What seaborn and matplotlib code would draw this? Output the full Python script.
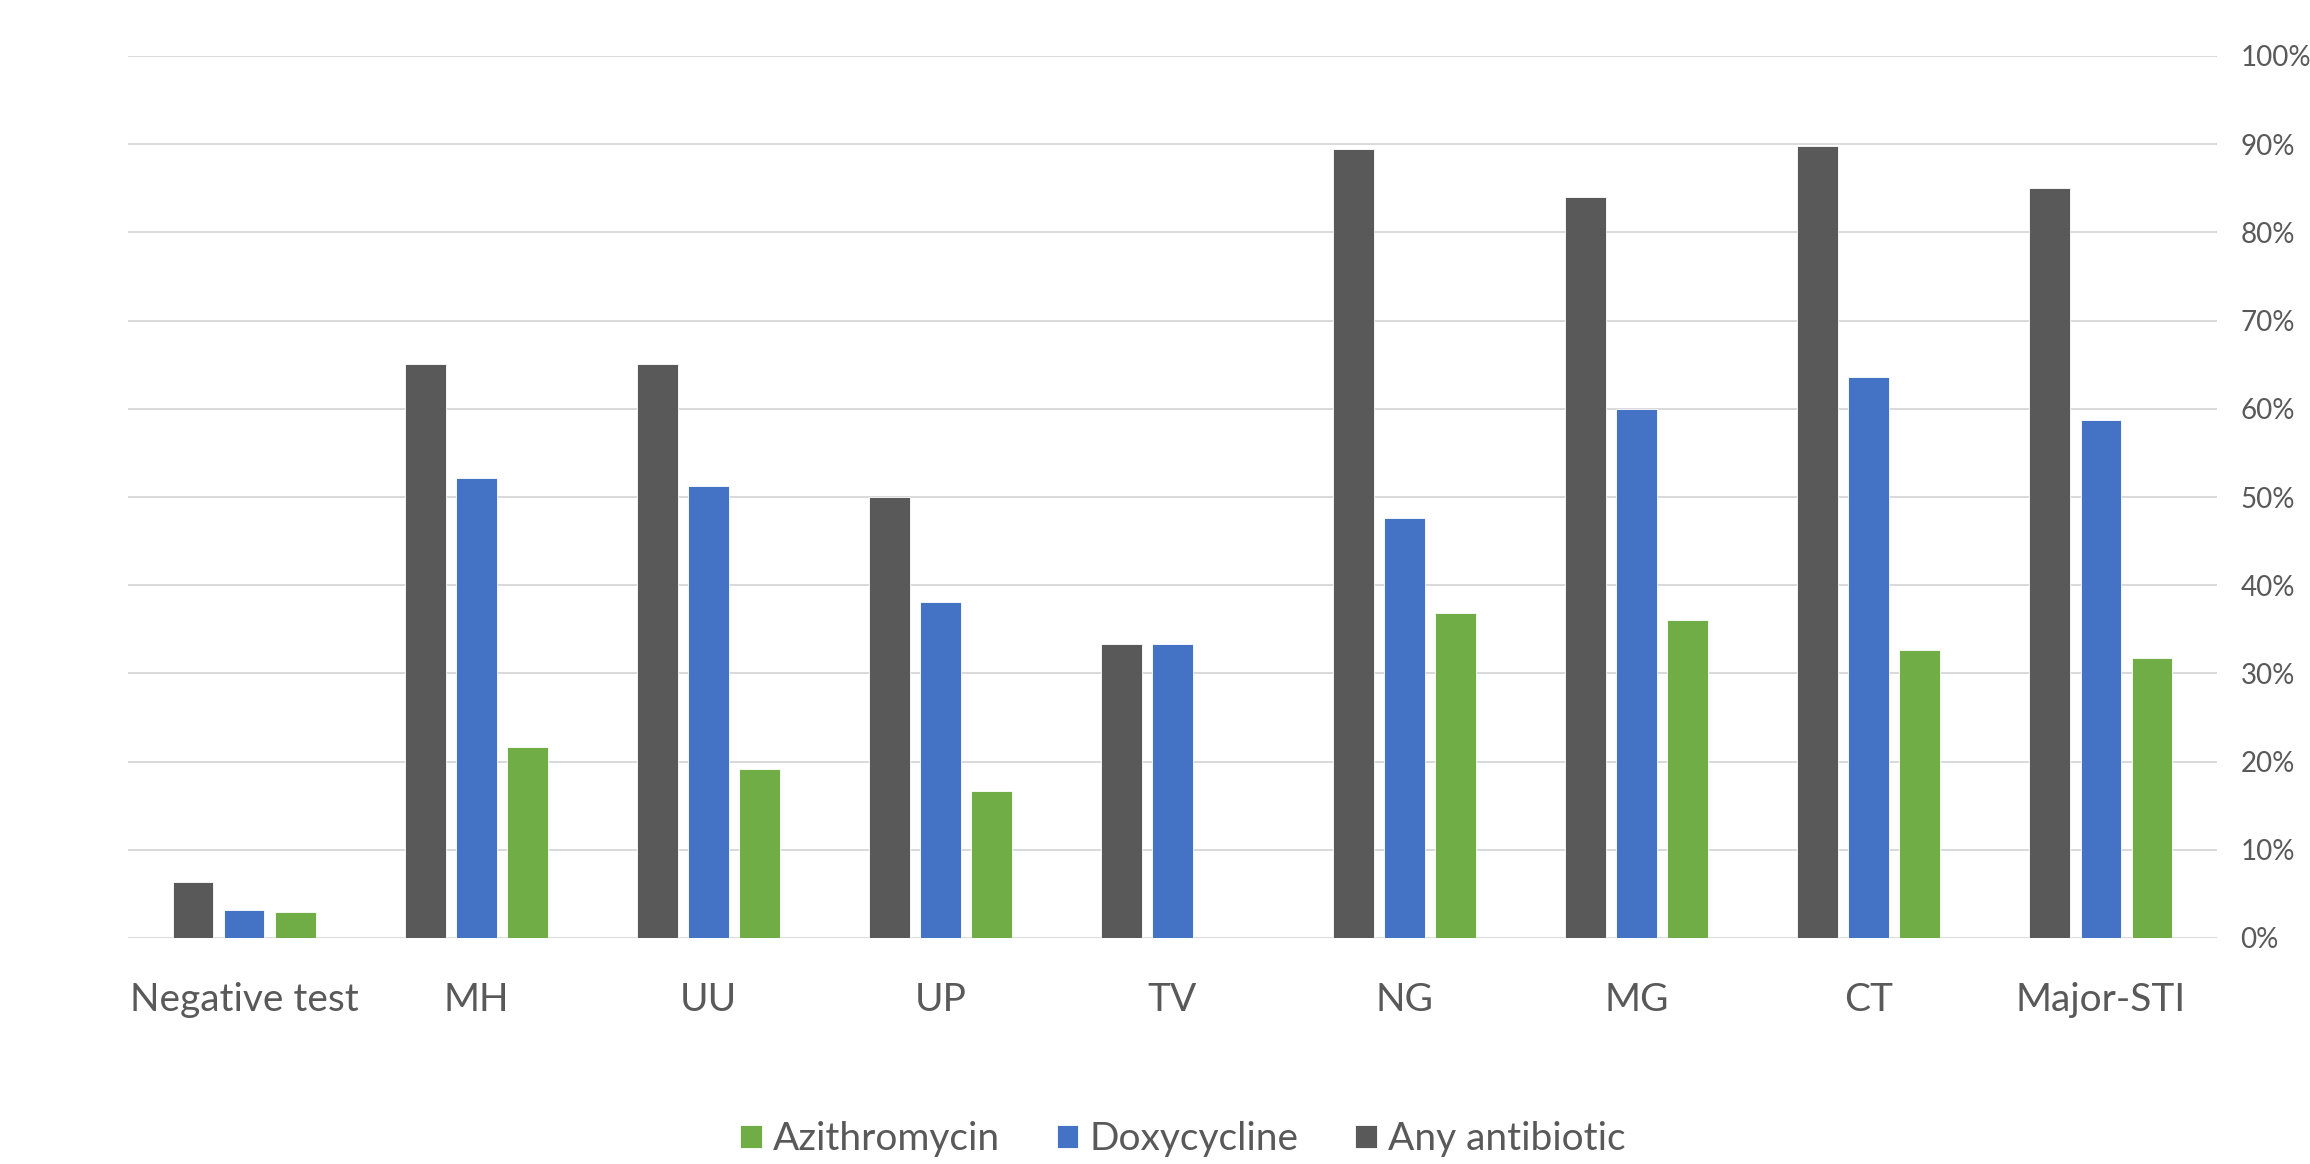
import matplotlib
matplotlib.use("Agg")
import matplotlib.pyplot as plt
from matplotlib.ticker import FuncFormatter, MultipleLocator
import pandas as pd
import seaborn as sns

# Share of patients receiving antibiotics, by test result (%)
categories = ["Negative test", "MH", "UU", "UP", "TV", "NG", "MG", "CT", "Major-STI"]
any_antibiotic = [6.4, 65.1, 65.1, 50.0, 33.3, 89.5, 84.0, 89.8, 85.0]
doxycycline = [3.2, 52.2, 51.2, 38.1, 33.3, 47.6, 60.0, 63.6, 58.7]
azithromycin = [3.0, 21.7, 19.2, 16.7, 0.0, 36.8, 36.0, 32.7, 31.8]

series_order = ["Any antibiotic", "Doxycycline", "Azithromycin"]
palette = {"Any antibiotic": "#595959", "Doxycycline": "#4472C4", "Azithromycin": "#70AD47"}

df = pd.DataFrame({
    "category": categories * 3,
    "series": ["Any antibiotic"] * len(categories)
              + ["Doxycycline"] * len(categories)
              + ["Azithromycin"] * len(categories),
    "value": any_antibiotic + doxycycline + azithromycin,
})

sns.set_theme(style="white")
plt.rcParams["font.family"] = ["Lato", "DejaVu Sans"]
text_color = "#595959"

fig = plt.figure(figsize=(23.10, 11.64), dpi=100)
ax = fig.add_axes([128 / 2310, 1 - 938 / 1164, (2217 - 128) / 2310, (938 - 56) / 1164])

sns.barplot(
    data=df, x="category", y="value", hue="series",
    order=categories, hue_order=series_order, palette=palette,
    width=0.66, gap=0.2, saturation=1, edgecolor="white", linewidth=0.6,
    ax=ax,
)

ax.set_xlim(-0.5, len(categories) - 0.5)
ax.set_ylim(0, 100)
ax.yaxis.set_major_locator(MultipleLocator(10))
ax.yaxis.set_major_formatter(FuncFormatter(lambda v, _: f"{v:.0f}%"))
ax.yaxis.tick_right()
ax.grid(axis="y", color="#D9D9D9", linewidth=1.4)
ax.set_axisbelow(True)
for s in ax.spines.values():
    s.set_visible(False)

ax.set_xlabel("")
ax.set_ylabel("")
ax.tick_params(axis="x", length=0, pad=32, labelsize=28, labelcolor=text_color)
ax.tick_params(axis="y", length=0, pad=17, labelsize=20, labelcolor=text_color)

handles, labels = ax.get_legend_handles_labels()
ax.get_legend().remove()
fig.legend(
    handles[::-1], labels[::-1],
    loc="center", bbox_to_anchor=(1183 / 2310, 1 - 1139 / 1164),
    ncol=3, frameon=False, fontsize=28, labelcolor=text_color,
    handlelength=0.55, handleheight=0.55, handletextpad=0.3, columnspacing=1.45,
)

fig.savefig("out.png", dpi=100, facecolor="white")
